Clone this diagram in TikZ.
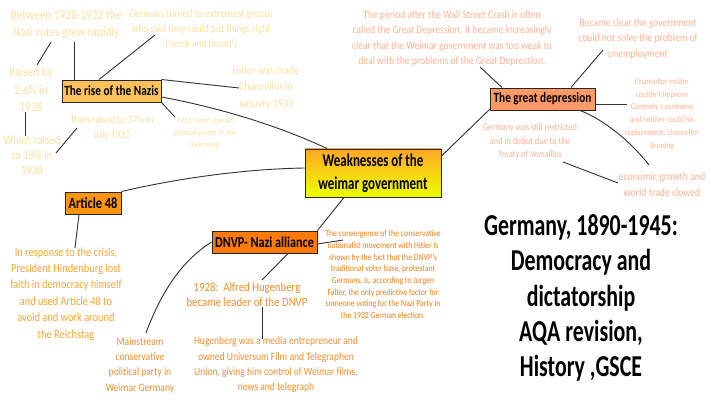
\documentclass[tikz,border=0pt]{standalone}
\usepackage{fontspec}
\setmainfont[FakeStretch=0.85]{Carlito}
\newfontfamily\boxfont[FakeStretch=0.8]{Carlito}
\newfontfamily\titlefont[FakeStretch=0.72]{Carlito}
\definecolor{palenazi}{HTML}{FBE1A0}
\definecolor{paledep}{HTML}{FDB294}
\definecolor{artcol}{HTML}{F5A62E}
\definecolor{dnvpcol}{HTML}{EF8E2E}
\definecolor{convcol}{HTML}{EE7F16}
\definecolor{risefill}{HTML}{FDC15D}
\definecolor{depfill}{HTML}{FF9966}
\definecolor{artfill}{HTML}{FF9411}
\definecolor{dnvpfill}{HTML}{FF7A0A}
\definecolor{maintop}{HTML}{FFA726}
\definecolor{mainbot}{HTML}{EEFF00}
\tikzset{
  boxnode/.style={draw=black!85,line width=0.7pt,inner sep=0pt,font=\boxfont\fontsize{10}{13}\selectfont\bfseries},
  note/.style={align=center,inner sep=0pt},
  branch/.style={draw=black!80,line width=0.65pt},
}
\begin{document}
\begin{tikzpicture}[x=0.025cm,y=-0.025cm]
  \useasboundingbox (0,0) rectangle (711,400);
  % boxes
  \node [boxnode,top color=maintop,bottom color=mainbot,minimum width=136*0.025cm,minimum height=48*0.025cm,align=center,font=\titlefont\fontsize{12.8}{16}\selectfont\bfseries] (main) at (373,173) {Weaknesses of the\\weimar government};
  \node [boxnode,fill=risefill,minimum width=99*0.025cm,minimum height=22*0.025cm] (rise) at (111.5,91) {The rise of the Nazis};
  \node [boxnode,fill=depfill,minimum width=105*0.025cm,minimum height=22*0.025cm] (depression) at (542.5,99) {The great depression};
  \node [boxnode,fill=artfill,minimum width=56*0.025cm,minimum height=22*0.025cm,font=\boxfont\fontsize{11}{13}\selectfont\bfseries] (article) at (93,203) {Article 48};
  \node [boxnode,fill=dnvpfill,minimum width=105*0.025cm,minimum height=22*0.025cm,font=\boxfont\fontsize{10.8}{13}\selectfont\bfseries] (alliance) at (264.5,242) {DNVP- Nazi alliance};
  % nazi notes
  \node [note,text=palenazi,font=\fontsize{9.5}{12}\selectfont] (votes) at (66,24.5) {Between 1928-1932 the\\Nazi votes grew rapidly};
  \node [note,text=palenazi,font=\fontsize{8}{10.7}\selectfont] (extreme) at (201,29) {Germans turned to extremest groups\\who said they could put things right\\('work and bread')};
  \node [note,text=palenazi,font=\fontsize{9.5}{12.6}\selectfont] (raised) at (31,89.5) {Raised by\\2.6\% in\\1928};
  \node [note,text=palenazi,font=\fontsize{9}{10.7}\selectfont] (which) at (32,155) {Which raised\\to 18\% in\\1930};
  \node [note,text=palenazi,font=\fontsize{8}{10}\selectfont] (thenraised) at (112,128) {Then raised to 37\% in\\July 1932};
  \node [note,text=palenazi,font=\fontsize{6}{8.5}\selectfont] (gained) at (205,133) {1932: Nazi's gained\\political power in the\\Reichstag};
  \node [note,text=palenazi,font=\fontsize{8.5}{11.8}\selectfont] (hitler) at (266,87.5) {Hitler was made\\Chancellor in\\January 1933};
  % depression notes
  \node [note,text=paledep,font=\fontsize{8}{10.7}\selectfont] (period) at (452,38.5) {The period after the Wall Street Crash is often\\called the Great Depression. It became increasingly\\clear that the Weimar government was too weak to\\deal with the problems of the Great Depression.};
  \node [note,text=paledep,font=\fontsize{8}{10.7}\selectfont] (became) at (638,39) {Became clear the government\\could not solve the problem of\\unemployment};
  \node [note,text=paledep,font=\fontsize{6.3}{9.1}\selectfont] (muller) at (662,114) {Chancellor muller\\couldn't improve\\Germany's economy\\and neither could his\\replacement, chancellor\\Bruning};
  \node [note,text=paledep,font=\fontsize{7}{9.6}\selectfont] (debut) at (530,141.5) {Germany was still restricted\\and in debut due to the\\Treaty of Versailles};
  \node [note,text=paledep,font=\fontsize{8.2}{12}\selectfont] (economic) at (662,184.5) {economic growth and\\world trade slowed};
  % article notes
  \node [note,text=artcol,font=\fontsize{8.7}{11.7}\selectfont] (crisis) at (66,294) {In response to the crisis,\\President Hindenburg lost\\faith in democracy himself\\and used Article 48 to\\avoid and work around\\the Reichstag};
  % alliance notes
  \node [note,text=dnvpcol,font=\fontsize{8}{10.7}\selectfont] (mainstream) at (140,365.5) {Mainstream\\conservative\\political party in\\Weimar Germany};
  \node [note,text=dnvpcol,font=\fontsize{9}{10.7}\selectfont] (leader) at (247,294.5) {1928:~~Alfred Hugenberg\\became leader of the DNVP};
  \node [note,text=dnvpcol,font=\fontsize{8}{10.9}\selectfont] (media) at (276,365) {Hugenberg was a media entrepreneur and\\owned Universum Film and Telegraphen\\Union, giving him control of Weimar films,\\news and telegraph};
  \node [note,text=convcol,font=\fontsize{6.5}{8.3}\selectfont] (convergence) at (383,274.5) {The convergence of the conservative\\nationalist movement with Hitler is\\shown by the fact that the DNVP's\\traditional voter base, protestant\\Germans, is, according to Jurgen\\Falter, the only predictive factor for\\someone voting for the Nazi Party in\\the 1932 German election.};
  % title
  \node [note,font=\titlefont\fontsize{21.6}{25.2}\selectfont\bfseries] (title) at (581,298) {Germany, 1890-1945:\\Democracy and\\dictatorship\\AQA revision,\\History ,GSCE};
  % free ends of the connectors
  \coordinate (votesa) at (74,42);
  \coordinate (votesb) at (51,42);
  \coordinate (raiseda) at (37,65);
  \coordinate (raisedb) at (25,112);
  \coordinate (whicha) at (25,136);
  \coordinate (whichb) at (56,153);
  \coordinate (thena) at (77,128);
  \coordinate (extremea) at (155,35);
  \coordinate (gaineda) at (175,117);
  \coordinate (hitlera) at (239,88);
  \coordinate (perioda) at (480,67);
  \coordinate (becamea) at (603,50);
  \coordinate (mullera) at (627,104);
  \coordinate (debuta) at (563,162);
  \coordinate (econa) at (618,183);
  \coordinate (econb) at (649,165);
  \coordinate (crisisa) at (75,248);
  \coordinate (streama) at (146,333);
  \coordinate (leadera) at (262,280);
  \coordinate (leaderb) at (262,307);
  \coordinate (mediaa) at (262,339);
  \coordinate (conva) at (343,240);
  % connectors
  \draw [branch] ([yshift=17*0.025cm]main.east) -- ([yshift=1*0.025cm]depression.south west);
  \draw [branch] (alliance.north east) -- ([xshift=-29*0.025cm]main.south);
  \draw [branch] ([yshift=-6*0.025cm]rise.east) .. controls (210,106) and (270,122) .. ([xshift=-46*0.025cm]main.north);
  \draw [branch] (article.north east) .. controls (170,180) and (240,169) .. ([yshift=5*0.025cm]main.west);
  \draw [branch] ([xshift=-37.5*0.025cm]rise.north) -- (votesa);
  \draw [branch] ([xshift=-12.5*0.025cm]rise.north) -- (extremea);
  \draw [branch] (rise.north east) -- (hitlera);
  \draw [branch] (rise.south east) -- (gaineda);
  \draw [branch] (votesb) -- (raiseda);
  \draw [branch] (raisedb) -- (whicha);
  \draw [branch] (whichb) -- (thena);
  \draw [branch] ([xshift=-40.5*0.025cm]depression.north) -- (perioda);
  \draw [branch] ([xshift=28.5*0.025cm]depression.north) -- (becamea);
  \draw [branch] ([yshift=-5*0.025cm]depression.east) -- (mullera);
  \draw [branch] ([xshift=37.5*0.025cm]depression.south) .. controls (605,120) and (632,143) .. (econb);
  \draw [branch] (debuta) -- (econa);
  \draw [branch] ([xshift=-14*0.025cm]article.south) -- (crisisa);
  \draw [branch] (alliance.west) .. controls (180,262) and (160,295) .. (streama);
  \draw [branch] ([xshift=23.5*0.025cm]alliance.south) -- (leadera);
  \draw [branch] (leaderb) -- (mediaa);
  \draw [branch] ([yshift=-2*0.025cm]alliance.east) -- (conva);
\end{tikzpicture}
\end{document}
